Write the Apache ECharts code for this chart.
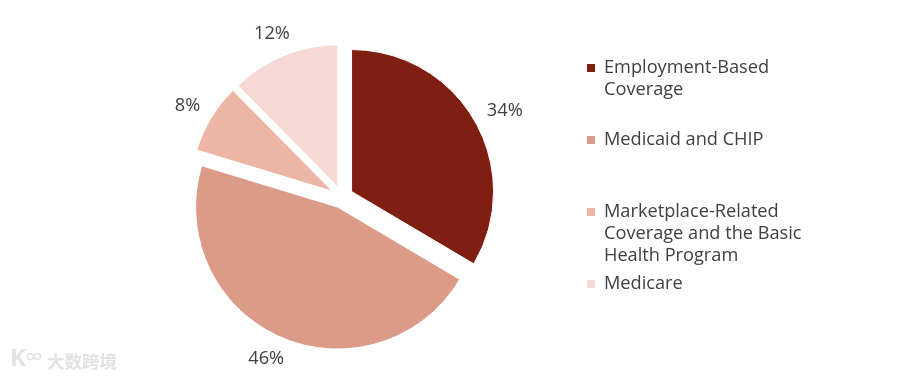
<!DOCTYPE html>
<html>
<head>
<meta charset="utf-8">
<style>html,body{margin:0;padding:0;background:#fff}#c{width:900px;height:379px}</style>
<script src="https://cdn.jsdelivr.net/npm/echarts@6/dist/echarts.min.js"></script>
</head>
<body>
<div id="c"></div>
<script>
const categories = ["Employment-Based\nCoverage", "Medicaid and CHIP", "Marketplace-Related\nCoverage and the Basic\nHealth Program", "Medicare"];
const values = [33.5, 46.2, 7.9, 12.4];
const colors = ["#7F1F12", "#DC9B86", "#EDB5A5", "#F6D9D4"];
const legendTops = [57, 129, 201, 273];
const labelNudges = [[0,-6],[12,14],[1,-8],[14,-14]];
const FONT = '"Open Sans", "Noto Sans", sans-serif';
const chart = echarts.init(document.getElementById('c'), null, {renderer:'canvas'});
chart.setOption({
  animation:false,
  backgroundColor:'#fff',
  legend: categories.map((name,i)=>({
    data:[name],
    orient:'vertical',
    left:585, top:legendTops[i] - (name.split('\n').length-1)*22,
    padding:0,
    itemWidth:10,itemHeight:10,itemGap:0,
    selectedMode:false,
    icon:'rect',
    formatter:n=>'\n'.repeat(n.split('\n').length-1)+n,
    textStyle:{fontFamily:FONT,fontSize:18.2,color:'#404040',lineHeight:22,padding:[0,0,0,3]}
  })),
  series:[{
    type:'pie',
    center:[342,197],
    radius:[0,142],
    startAngle:90,
    clockwise:true,
    selectedMode:'multiple',
    selectedOffset:11,
    percentPrecision:0,
    label:{show:true,position:'outside',formatter:'{d}%',fontFamily:FONT,fontSize:18.2,color:'#404040'},
    labelLine:{show:false,length:8,length2:0},
    labelLayout:p=>({dx:labelNudges[p.dataIndex][0],dy:labelNudges[p.dataIndex][1]}),
    itemStyle:{borderColor:'#fff',borderWidth:1},
    emphasis:{disabled:true},
    select:{itemStyle:{borderColor:'#fff',borderWidth:1}},
    data:categories.map((name,i)=>({name,value:values[i],selected:true,itemStyle:{color:colors[i]}}))
  }],
  graphic:[
    {type:'text',left:47,top:353,silent:true,style:{text:'大数跨境',fill:'#e2e2e2',font:'bold 17.5px "Noto Sans CJK SC"'}},
    {type:'text',left:10,top:347,silent:true,style:{text:'K',fill:'#e2e2e2',font:'bold 24px "Open Sans"'}},
    {type:'circle',shape:{cx:30.5,cy:356.5,r:3},silent:true,style:{fill:'none',stroke:'#e2e2e2',lineWidth:1.5}},
    {type:'circle',shape:{cx:37.5,cy:356.5,r:3},silent:true,style:{fill:'none',stroke:'#e2e2e2',lineWidth:1.5}}
  ]
});
</script>
</body>
</html>
